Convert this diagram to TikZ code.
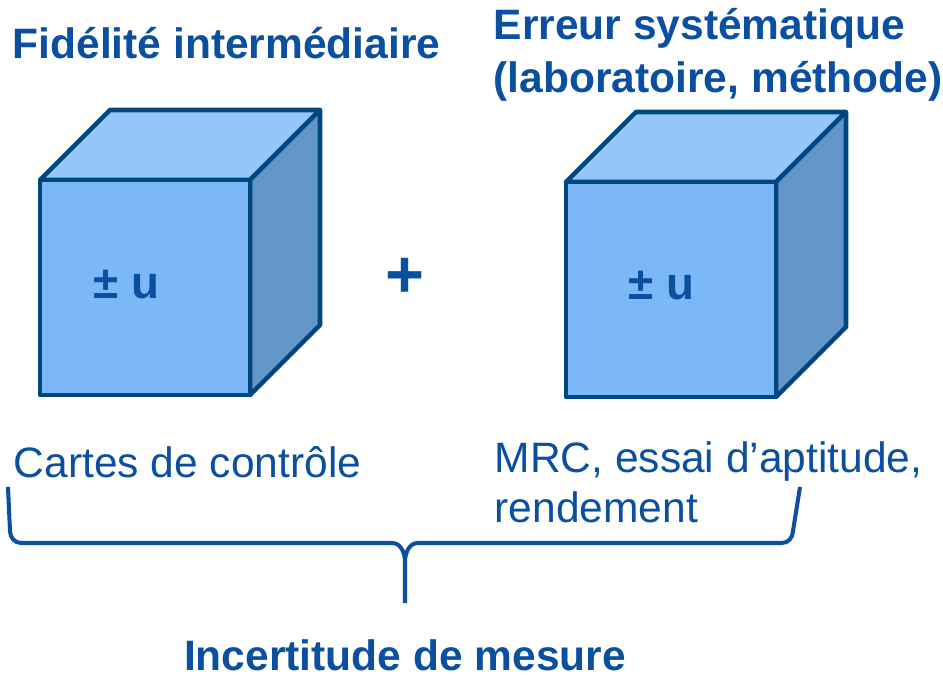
\documentclass[tikz,border=0pt]{standalone}
\usepackage{fontspec}
\setmainfont{Liberation Sans}
\usepackage{xcolor}
\definecolor{title-blue}{HTML}{0A4FA0}
\definecolor{edge-navy}{HTML}{00467F}
\definecolor{face-front}{HTML}{7CB8F7}
\definecolor{face-top}{HTML}{95C6FA}
\definecolor{face-side}{HTML}{6495C8}

\begin{document}
\begin{tikzpicture}[
    every node/.style={inner sep=0pt, text=title-blue},
    titletext/.style={font=\fontsize{12.1}{14.8}\selectfont\bfseries, align=left, anchor=base west},
    notetext/.style={font=\fontsize{12.1}{14.2}\selectfont, align=left, anchor=base west},
    face/.style={draw=edge-navy, line width=1.3pt, line join=round}
  ]
  \useasboundingbox (0,0) rectangle (9.43,-6.75);
  % the two cubes
  \foreach \x/\y in {0.40/-1.80, 5.66/-1.82} {
    \begin{scope}[shift={(\x,\y)}]
      \filldraw[face, fill=face-top] (0,0) -- (0.7,0.7) -- (2.8,0.7) -- (2.1,0) -- cycle;
      \filldraw[face, fill=face-side] (2.1,0) -- (2.8,0.7) -- (2.8,-1.45) -- (2.1,-2.15) -- cycle;
      \filldraw[face, fill=face-front] (0,0) rectangle (2.1,-2.15);
    \end{scope}
  }
  \node[titletext] (fidelite) at (0.12,-0.58) {Fidélité intermédiaire};
  % multi-line nodes: base is the last line
  \node[titletext] (erreur) at (4.93,-0.92) {Erreur systématique\\(laboratoire, méthode)};
  \node[titletext, font=\fontsize{13}{15}\selectfont\bfseries] (pmleft) at (0.93,-2.98) {± u};
  \node[titletext, font=\fontsize{13}{15}\selectfont\bfseries] (pmright) at (6.28,-2.99) {± u};
  \node[font=\fontsize{19}{20}\selectfont\bfseries] (plus) at (4.05,-2.78) {+};
  \node[notetext] (cartes) at (0.13,-4.77) {Cartes de contrôle};
  \node[notetext] (mrc) at (4.94,-5.22) {MRC, essai d’aptitude,\\rendement};
  \node[titletext, anchor=base] (incert) at (4.05,-6.70) {Incertitude de mesure};
  % brace
  \coordinate (bl) at (0.08,-4.87);
  \coordinate (br) at (8.00,-4.87);
  \coordinate (tip) at (4.05,-6.03);
  \draw[title-blue, line width=1.15pt]
    (bl) -- (0.10,-5.31) to[out=-90,in=180] (0.21,-5.43) -- (3.92,-5.43)
    to[out=0,in=90] (tip |- 0,-5.62) -- (tip)
    (tip |- 0,-5.62) to[out=90,in=180] (4.18,-5.43) -- (7.82,-5.43)
    to[out=0,in=-90] (7.93,-5.31) -- (br);
\end{tikzpicture}
\end{document}
